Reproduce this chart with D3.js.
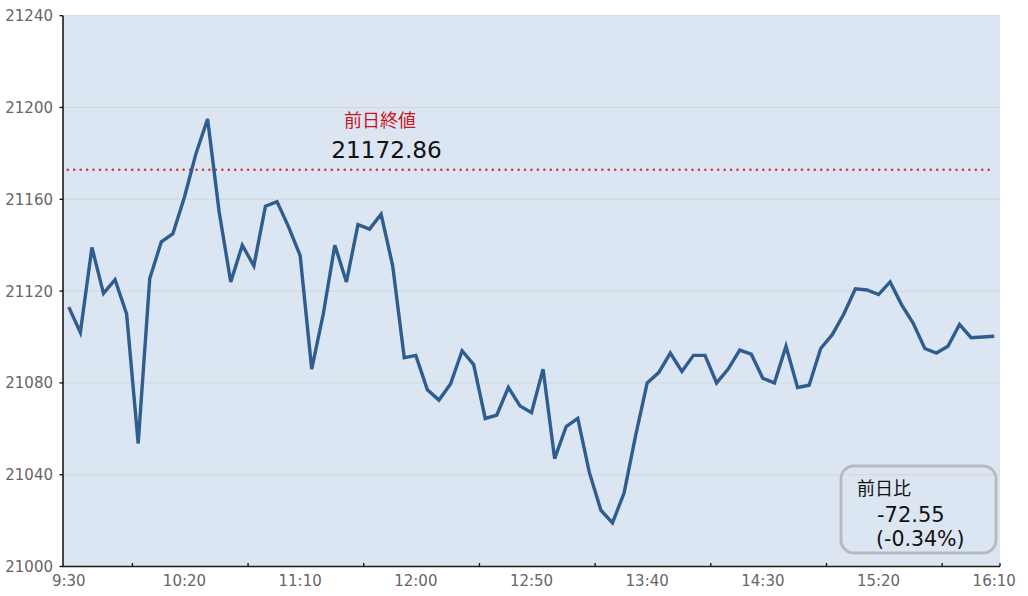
<!DOCTYPE html>
<html><head><meta charset="utf-8">
<script src="https://cdn.jsdelivr.net/npm/d3@7/dist/d3.min.js"></script>
<style>
html,body{margin:0;padding:0;background:#fff;}
svg{display:block;}
text{font-family:"DejaVu Sans","Noto Sans CJK JP",sans-serif;}
</style></head>
<body><svg id="c" width="1028" height="596"></svg>
<script>
const times = ["9:30","9:35","9:40","9:45","9:50","9:55","10:00","10:05","10:10","10:15",
"10:20","10:25","10:30","10:35","10:40","10:45","10:50","10:55","11:00","11:05",
"11:10","11:15","11:20","11:25","11:30","11:35","11:40","11:45","11:50","11:55",
"12:00","12:05","12:10","12:15","12:20","12:25","12:30","12:35","12:40","12:45",
"12:50","12:55","13:00","13:05","13:10","13:15","13:20","13:25","13:30","13:35",
"13:40","13:45","13:50","13:55","14:00","14:05","14:10","14:15","14:20","14:25",
"14:30","14:35","14:40","14:45","14:50","14:55","15:00","15:05","15:10","15:15",
"15:20","15:25","15:30","15:35","15:40","15:45","15:50","15:55","16:00","16:05","16:10"];
const values = [21113,21102,21139,21119,21125,21110,21053.6,21125.5,21141.5,21145,
21161,21180,21195,21154.5,21124,21140,21131,21157,21159,21148,
21135.5,21086,21110,21140,21124,21149,21147,21153.5,21131,21091,
21092,21077,21072.5,21079.5,21094,21088,21064.5,21066,21078,21070,
21067,21086,21047,21061,21064.5,21041,21024.5,21019,21032,21057,
21080,21084.5,21093,21085,21092,21092,21080,21086,21094.3,21092.5,
21082,21080,21096,21078,21079,21095,21101,21110,21121,21120.5,
21118.5,21124,21114,21106,21095,21093,21096,21105.5,21099.7,21100,21100.31];
const xLabels = ["9:30","10:20","11:10","12:00","12:50","13:40","14:30","15:20","16:10"];
const xTickCats = ["9:55","10:45","11:35","12:25","13:15","14:05","14:55","15:45","16:10"];
const yTicks = [21000,21040,21080,21120,21160,21200,21240];
const prevClose = 21172.86;
const prevCloseLabel = "前日終値";
const prevCloseText = "21172.86";
const diffLines = ["前日比","-72.55","(-0.34%)"];

const svg = d3.select("#c");
const L=63, R=1000, T=15.7, B=566.5;
const x = d3.scaleBand().domain(times).range([L,R]).padding(0);
const y = d3.scaleLinear().domain([21000,21240]).range([B,T]);
const cx = t => x(t)+x.bandwidth()/2;

svg.append("rect").attr("x",L).attr("y",T).attr("width",R-L).attr("height",B-T).attr("fill","#dce6f2");

// gridlines
svg.append("g").selectAll("line").data(yTicks.filter(d=>d>21000)).join("line")
  .attr("x1",L).attr("x2",R).attr("y1",d=>y(d)).attr("y2",d=>y(d))
  .attr("stroke","#d3d6da").attr("stroke-width",1);

// previous close dotted line
svg.append("line").attr("x1",cx(times[0])-1).attr("x2",cx(times[times.length-1]))
  .attr("y1",y(prevClose)).attr("y2",y(prevClose))
  .attr("stroke","#cf3a3a").attr("stroke-width",2.6).attr("stroke-linecap","round")
  .attr("stroke-dasharray","0.01 6.43");

// line
const line = d3.line().x((d,i)=>cx(times[i])).y(d=>y(d));
svg.append("path").datum(values).attr("d",line).attr("fill","none")
  .attr("stroke","#2f5d8f").attr("stroke-width",3.4).attr("stroke-linejoin","miter");

// axes
svg.append("line").attr("x1",L).attr("x2",L).attr("y1",T).attr("y2",B+0.5).attr("stroke","#1a1a1a").attr("stroke-width",1.6);
svg.append("line").attr("x1",L-0.5).attr("x2",R).attr("y1",B).attr("y2",B).attr("stroke","#1a1a1a").attr("stroke-width",1.6);
svg.append("g").selectAll("line").data(yTicks).join("line")
  .attr("x1",L-3.5).attr("x2",L).attr("y1",d=>y(d)).attr("y2",d=>y(d))
  .attr("stroke","#1a1a1a").attr("stroke-width",1.4);
svg.append("g").selectAll("line").data(xTickCats).join("line")
  .attr("x1",d=>x(d)+x.bandwidth()).attr("x2",d=>x(d)+x.bandwidth())
  .attr("y1",B).attr("y2",B-3.5).attr("stroke","#1a1a1a").attr("stroke-width",1.4);

svg.append("g").selectAll("text").data(yTicks).join("text")
  .attr("x",53).attr("y",d=>y(d)).attr("dy","0.36em").attr("text-anchor","end")
  .attr("font-size",15).attr("fill","#666").text(d=>d);
svg.append("g").selectAll("text").data(xLabels).join("text")
  .attr("x",d=>cx(d)).attr("y",581).attr("dy","0.36em").attr("text-anchor","middle")
  .attr("font-size",15).attr("fill","#666").text(d=>d);

// annotation
svg.append("text").attr("x",380).attr("y",121).attr("dy","0.36em").attr("text-anchor","middle")
  .attr("font-size",18).attr("fill","#c8141e").attr("font-family","Noto Sans CJK JP").text(prevCloseLabel);
svg.append("text").attr("x",386.5).attr("y",150).attr("dy","0.36em").attr("text-anchor","middle")
  .attr("font-size",23.2).attr("fill","#111").text(prevCloseText);

// diff box
svg.append("rect").attr("x",841).attr("y",466).attr("width",155).attr("height",87).attr("rx",13)
  .attr("fill","none").attr("stroke","#b6babf").attr("stroke-width",2.8);
const bx=[857,877,876], by=[489,514,539], fs=[18,21,20.5];
diffLines.forEach((t,i)=>{
  svg.append("text").attr("x",bx[i]).attr("y",by[i]).attr("dy","0.36em")
    .attr("font-size",fs[i]).attr("fill","#111")
    .attr("font-family", i===0?"Noto Sans CJK JP":null).text(t);
});
</script></body></html>
